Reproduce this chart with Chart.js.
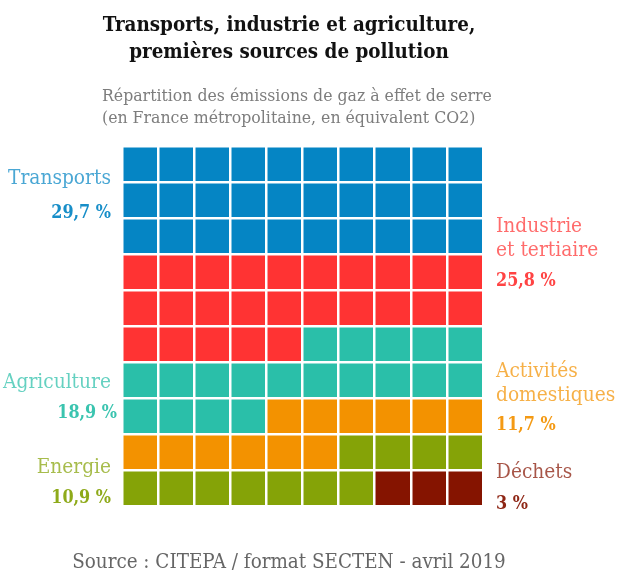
<!DOCTYPE html>
<html lang="fr">

<head>
    <meta charset="UTF-8">
    <title>Transports, industrie et agriculture</title>
    <link rel="icon" href="data:,">
    <script src="https://cdn.jsdelivr.net/npm/chart.js"></script>
    <style>
        html, body { margin: 0; padding: 0; background: #fff; }
        #wrap { position: relative; width: 623px; height: 579px; overflow: hidden; font-family: "DejaVu Serif Condensed", "DejaVu Serif", serif; }
        canvas { position: absolute; left: 0; top: 0; }
        .t { position: absolute; white-space: nowrap; line-height: 1; }
        .l { right: 512px; text-align: right; }
        .r { left: 496px; }
        .name { font-size: 20.7px; opacity: 0.72; }
        .pct { font-size: 17.8px; font-weight: bold; opacity: 0.92; }
        .title { left: 0; width: 578px; text-align: center; font-size: 20.4px; font-weight: bold; color: #111; }
        .sub { left: 102px; font-size: 17.5px; color: #7d7d7d; }
        #source { left: 0; width: 578px; text-align: center; font-size: 20.4px; color: #666; top: 551px; }
    </style>
</head>

<body>
    <div id="wrap">
        <canvas id="waffle" width="623" height="579"></canvas>
        <div class="t title" style="top:14px">Transports, industrie et agriculture,</div>
        <div class="t title" style="top:41px">premières sources de pollution</div>
        <div class="t sub" style="top:87px">Répartition des émissions de gaz à effet de serre</div>
        <div class="t sub" style="top:109px">(en France métropolitaine, en équivalent CO2)</div>

        <div class="t l name" style="top:167px;color:#0585c4">Transports</div>
        <div class="t l pct" style="top:203px;color:#0585c4">29,7 %</div>
        <div class="t r name" style="top:215px;color:#ff3333">Industrie</div>
        <div class="t r name" style="top:239px;color:#ff3333">et tertiaire</div>
        <div class="t r pct" style="top:271px;color:#ff3333">25,8 %</div>
        <div class="t l name" style="top:371px;color:#2abfa9">Agriculture</div>
        <div class="t l pct" style="top:403px;right:506px;color:#2abfa9">18,9 %</div>
        <div class="t r name" style="top:360px;color:#f39200">Activités</div>
        <div class="t r name" style="top:384px;color:#f39200">domestiques</div>
        <div class="t r pct" style="top:415px;color:#f39200">11,7 %</div>
        <div class="t l name" style="top:456px;color:#85a307">Energie</div>
        <div class="t l pct" style="top:488px;color:#85a307">10,9 %</div>
        <div class="t r name" style="top:461px;color:#851400">Déchets</div>
        <div class="t r pct" style="top:494px;color:#851400">3 %</div>

        <div class="t" id="source">Source : CITEPA / format SECTEN - avril 2019</div>
    </div>

    <script>
        const rows = ['1', '2', '3', '4', '5', '6', '7', '8', '9', '10'];

        // squares per row, top row first (1 square = 1 %)
        const transports = [10, 10, 10, 0, 0, 0, 0, 0, 0, 0];
        const industrie = [0, 0, 0, 10, 10, 5, 0, 0, 0, 0];
        const agriculture = [0, 0, 0, 0, 0, 5, 10, 4, 0, 0];
        const domestiques = [0, 0, 0, 0, 0, 0, 0, 6, 6, 0];
        const energie = [0, 0, 0, 0, 0, 0, 0, 0, 4, 7];
        const dechets = [0, 0, 0, 0, 0, 0, 0, 0, 0, 3];

        function ds(label, data, color) {
            return { label: label, data: data, backgroundColor: color, borderWidth: 0 };
        }

        new Chart(document.getElementById('waffle').getContext('2d'), {
            type: 'bar',
            data: {
                labels: rows,
                datasets: [
                    ds('Transports', transports, '#0585c4'),
                    ds('Industrie et tertiaire', industrie, '#ff3333'),
                    ds('Agriculture', agriculture, '#2abfa9'),
                    ds('Activités domestiques', domestiques, '#f39200'),
                    ds('Energie', energie, '#85a307'),
                    ds('Déchets', dechets, '#851400')
                ]
            },
            options: {
                indexAxis: 'y',
                responsive: false,
                animation: false,
                barPercentage: 1,
                categoryPercentage: 1,
                layout: { padding: { left: 122, right: 140, top: 146.5, bottom: 72.5 } },
                plugins: { legend: { display: false }, tooltip: { enabled: false } },
                scales: {
                    x: {
                        stacked: true,
                        min: 0,
                        max: 10,
                        ticks: { display: false, stepSize: 1 },
                        border: { display: false },
                        grid: { color: '#fff', lineWidth: 2.5, z: 1, drawTicks: false }
                    },
                    y: {
                        stacked: true,
                        ticks: { display: false },
                        border: { display: false },
                        grid: { color: '#fff', lineWidth: 2.5, z: 1, drawTicks: false }
                    }
                }
            }
        });
    </script>
</body>

</html>
